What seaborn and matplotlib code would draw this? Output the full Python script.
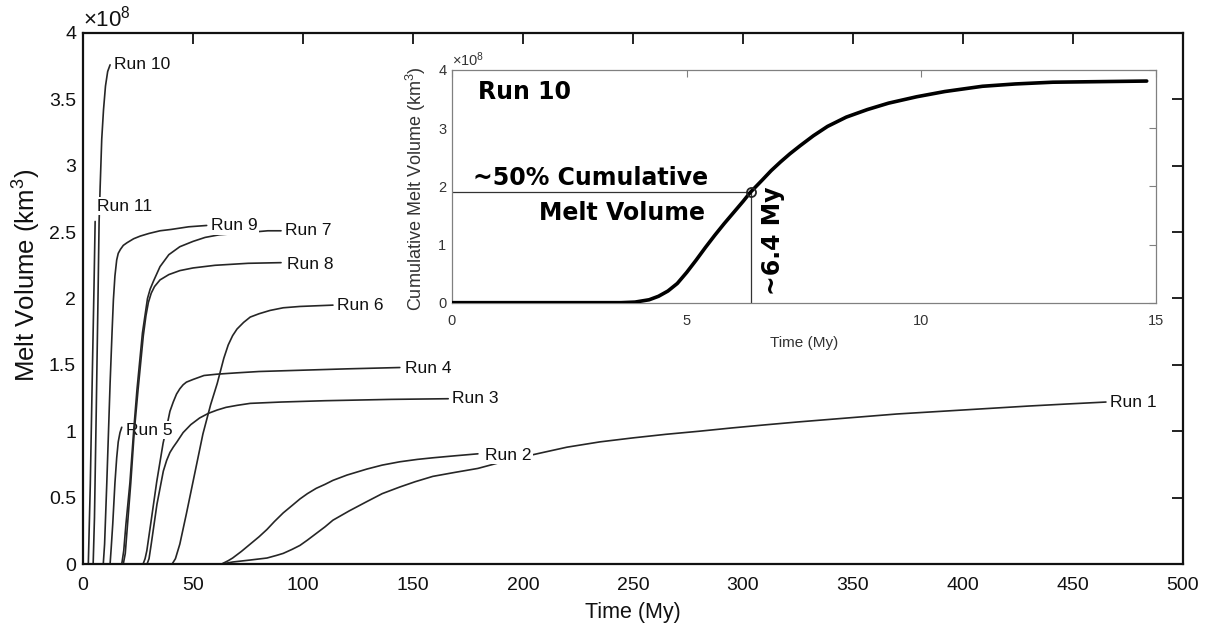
import matplotlib
matplotlib.use("Agg")
import matplotlib.pyplot as plt
import numpy as np
import pandas as pd
import seaborn as sns

# ---------------- data (volume in units of 1e8 km^3, time in My) ----------------
run1_t = [63, 68, 76, 83.6, 88, 91, 95, 98.6, 102, 106, 110, 113.6, 121, 129, 136, 144, 151, 159, 169, 179.5,
          193, 207.7, 220, 235, 250, 265, 280, 295, 310, 325, 340, 355, 370, 385, 400, 415, 430, 447, 465]
run1_v = [0, 0.015, 0.03, 0.045, 0.065, 0.08, 0.11, 0.14, 0.18, 0.23, 0.28, 0.33, 0.4, 0.47, 0.53, 0.58, 0.62, 0.66, 0.69, 0.72,
          0.78, 0.835, 0.88, 0.92, 0.95, 0.977, 1.0, 1.025, 1.048, 1.07, 1.09, 1.11, 1.13, 1.145, 1.16, 1.175, 1.19, 1.205, 1.22]

run2_t = [63, 66, 68, 72, 76, 80, 83.6, 87, 91, 95, 98.6, 102, 106, 110, 113.6, 120, 129, 136, 144, 152, 159, 169, 179.5]
run2_v = [0, 0.025, 0.045, 0.095, 0.15, 0.205, 0.26, 0.32, 0.385, 0.44, 0.49, 0.53, 0.57, 0.6, 0.63, 0.67, 0.715, 0.745, 0.77, 0.788, 0.8, 0.815, 0.83]

run3_t = [29.1, 30, 31, 33.6, 36.5, 38, 39.5, 41, 42.7, 45.5, 49, 53, 57, 61, 65, 70, 76, 90, 110, 140, 166]
run3_v = [0, 0.04, 0.15, 0.45, 0.7, 0.78, 0.84, 0.88, 0.92, 0.99, 1.05, 1.1, 1.135, 1.16, 1.18, 1.195, 1.21, 1.22, 1.23, 1.24, 1.245]

run4_t = [27.3, 28.2, 29, 31, 33.5, 36.4, 38, 39.5, 41, 42.5, 44, 45.5, 47, 50, 55, 61, 70, 80, 100, 120, 144]
run4_v = [0, 0.04, 0.1, 0.33, 0.62, 0.91, 1.03, 1.15, 1.22, 1.28, 1.32, 1.35, 1.37, 1.39, 1.42, 1.43, 1.44, 1.45, 1.46, 1.47, 1.48]

run5_t = [12.3, 12.8, 13.5, 14.5, 15.3, 16.0, 16.8, 17.6]
run5_v = [0, 0.12, 0.3, 0.61, 0.8, 0.92, 0.99, 1.03]

run6_t = [40.5, 42, 44, 47, 51, 54.5, 58, 61, 64, 66, 68, 70, 73, 76, 80, 85, 91, 98.6, 106, 113.6]
run6_v = [0, 0.04, 0.15, 0.38, 0.7, 0.98, 1.2, 1.36, 1.55, 1.65, 1.72, 1.77, 1.82, 1.86, 1.885, 1.91, 1.93, 1.94, 1.945, 1.95]

run7_t = [17.6, 18.5, 19.5, 21.3, 23, 24.5, 27, 29.3, 30.5, 32, 35, 39, 44, 50, 55.5, 62, 70, 84, 90]
run7_v = [0, 0.1, 0.3, 0.61, 1.0, 1.31, 1.74, 2.0, 2.07, 2.13, 2.24, 2.33, 2.39, 2.43, 2.46, 2.48, 2.49, 2.51, 2.51]

run8_t = [18.3, 19.2, 20, 21.7, 23.3, 25, 27.4, 28.6, 29.7, 31, 32.5, 35, 39, 44, 50, 60, 75, 90]
run8_v = [0, 0.08, 0.25, 0.61, 1.0, 1.31, 1.72, 1.87, 1.97, 2.04, 2.09, 2.14, 2.18, 2.21, 2.23, 2.25, 2.265, 2.27]

run9_t = [9.2, 9.8, 10.8, 12.3, 13.2, 13.8, 14.5, 15.3, 16.0, 17.0, 18.3, 20, 23, 26, 30, 35, 40, 48, 56.2]
run9_v = [0, 0.15, 0.61, 1.36, 1.75, 1.99, 2.17, 2.29, 2.34, 2.37, 2.4, 2.42, 2.45, 2.47, 2.49, 2.51, 2.52, 2.54, 2.55]

run10_t = [4.6, 5.2, 6.0, 6.8, 7.3, 7.8, 8.5, 9.3, 10.2, 11.2, 12.3]
run10_v = [0, 0.35, 1.15, 2.0, 2.58, 2.85, 3.2, 3.42, 3.6, 3.71, 3.76]

run11_t = [2.4, 3.3, 4.3, 5.0, 5.5]
run11_v = [0, 0.6, 1.5, 2.1, 2.58]

run_names = ["Run 1", "Run 2", "Run 3", "Run 4", "Run 5", "Run 6",
             "Run 7", "Run 8", "Run 9", "Run 10", "Run 11"]
run_times = [run1_t, run2_t, run3_t, run4_t, run5_t, run6_t,
             run7_t, run8_t, run9_t, run10_t, run11_t]
run_vols = [run1_v, run2_v, run3_v, run4_v, run5_v, run6_v,
            run7_v, run8_v, run9_v, run10_v, run11_v]

# inset: Run 10 cumulative melt volume
inset_t = [0, 3.6, 3.9, 4.2, 4.4, 4.6, 4.8, 5.0, 5.2, 5.4, 5.6, 5.8, 6.0, 6.2, 6.36, 6.6, 6.8, 7.0, 7.2,
           7.42, 7.7, 8.0, 8.4, 8.85, 9.3, 9.9, 10.5, 11.3, 12.0, 12.8, 13.8, 14.8]
inset_v = [0, 0, 0.01, 0.05, 0.11, 0.2, 0.33, 0.52, 0.73, 0.95, 1.16, 1.36, 1.55, 1.74, 1.9, 2.1, 2.27, 2.42, 2.56,
           2.7, 2.87, 3.03, 3.19, 3.32, 3.43, 3.54, 3.63, 3.72, 3.76, 3.79, 3.8, 3.81]
half_t = 6.36
half_v = 1.9

main_xticks = [0, 50, 100, 150, 200, 250, 300, 350, 400, 450, 500]
main_yticks = [0, 0.5, 1, 1.5, 2, 2.5, 3, 3.5, 4]
main_ytick_labels = ["0", "0.5", "1", "1.5", "2", "2.5", "3", "3.5", "4"]
inset_xticks = [0, 5, 10, 15]
inset_yticks = [0, 1, 2, 3, 4]

# ---------------- style ----------------
sns.set_theme(style="white")
plt.rcParams["font.family"] = ["Liberation Sans", "DejaVu Sans"]
plt.rcParams["mathtext.fontset"] = "custom"
plt.rcParams["mathtext.rm"] = "Liberation Sans"
plt.rcParams["mathtext.it"] = "Liberation Sans:italic"
plt.rcParams["mathtext.bf"] = "Liberation Sans:bold"

LINE_C = "#262626"

df = pd.DataFrame({
    "run": np.concatenate([[n] * len(t) for n, t in zip(run_names, run_times)]),
    "time": np.concatenate(run_times),
    "volume": np.concatenate(run_vols),
})

fig = plt.figure(figsize=(12.14, 6.34), dpi=100)
ax = fig.add_axes([0.0684, 0.1104, 0.906, 0.8376])

line_z = {"Run 7": 2.2, "Run 8": 2.2}
label_z = {"Run 5": 1.8}
label_off = {"Run 11": (1, 11), "Run 2": (5, -1), "Run 8": (4, -1), "Run 4": (4, -1),
             "Run 5": (3, -2)}

for name in run_names:
    sub = df[df["run"] == name]
    sns.lineplot(data=sub, x="time", y="volume", ax=ax, color=LINE_C, lw=1.2,
                 estimator=None, sort=False, zorder=line_z.get(name, 1.5), legend=False)
    t_end = sub["time"].iloc[-1]
    v_end = sub["volume"].iloc[-1]
    ax.annotate(name, xy=(t_end, v_end), xytext=label_off.get(name, (3, 0)),
                textcoords="offset points", ha="left", va="center", fontsize=12.5,
                color="#111111", zorder=label_z.get(name, 3),
                bbox=dict(facecolor="white", edgecolor="none", pad=1.2))

ax.set_xlim(0, 500)
ax.set_ylim(0, 4)
ax.set_xticks(main_xticks)
ax.set_xticklabels([str(v) for v in main_xticks], fontsize=14)
ax.set_yticks(main_yticks)
ax.set_yticklabels(main_ytick_labels, fontsize=14)
ax.tick_params(direction="in", length=8, width=1.3, top=True, right=True,
               colors="#111111", pad=5)
ax.tick_params(axis="x", pad=9)
for s in ax.spines.values():
    s.set_linewidth(1.6)
    s.set_color("#111111")
ax.set_xlabel("Time (My)", fontsize=15.5, color="#111111", labelpad=6)
ax.set_ylabel("Melt Volume (km$^3$)", fontsize=18.5, color="#111111")
ax.yaxis.set_label_coords(-0.036, 0.543)
ax.text(0.0, 1.003, "×10$^{8}$", transform=ax.transAxes, ha="left", va="bottom",
        fontsize=16, color="#111111")

# ---------------- inset ----------------
axi = fig.add_axes([0.3723, 0.5226, 0.58, 0.367])
axi.set_facecolor("white")
sns.lineplot(x=inset_t, y=inset_v, ax=axi, color="black", lw=2.6, estimator=None,
             sort=False, zorder=3)
axi.plot([0, half_t], [half_v, half_v], color="#333333", lw=0.9, zorder=2)
axi.plot([half_t, half_t], [0, half_v], color="#333333", lw=0.9, zorder=2)
axi.plot([half_t], [half_v], marker="o", ms=6.5, mfc="none", mec="#222222", mew=1.3, zorder=4)
axi.set_xlim(0, 15)
axi.set_ylim(0, 4)
axi.set_xticks(inset_xticks)
axi.set_xticklabels([str(v) for v in inset_xticks], fontsize=10.5, color="#333333")
axi.set_yticks(inset_yticks)
axi.set_yticklabels([str(v) for v in inset_yticks], fontsize=10.5, color="#333333")
axi.tick_params(direction="in", length=5, width=0.8, top=True, right=True,
                colors="#808080", labelcolor="#333333", pad=4)
axi.tick_params(axis="x", pad=8)
for s in axi.spines.values():
    s.set_linewidth(0.9)
    s.set_color("#808080")
axi.set_xlabel("Time (My)", fontsize=11, color="#333333", labelpad=6)
axi.set_ylabel("Cumulative Melt Volume (km$^3$)", fontsize=13, color="#333333")
axi.yaxis.set_label_coords(-0.034, 0.49)
axi.text(0.0, 1.005, "×10$^{8}$", transform=axi.transAxes, ha="left", va="bottom",
         fontsize=10.5, color="#333333")

bold_font = ["DejaVu Sans"]
axi.text(0.55, 3.62, "Run 10", fontsize=17, fontweight="bold", ha="left", va="center",
         color="black", family=bold_font)
axi.text(5.46, 2.14, "~50% Cumulative", fontsize=17, fontweight="bold", ha="right",
         va="center", color="black", family=bold_font)
axi.text(5.4, 1.55, "Melt Volume", fontsize=17, fontweight="bold", ha="right",
         va="center", color="black", family=bold_font)
axi.text(6.84, 1.06, "~6.4 My", fontsize=17, fontweight="bold", ha="center",
         va="center", rotation=90, color="black", family=bold_font)

fig.savefig("out.png", dpi=100, facecolor="white")
